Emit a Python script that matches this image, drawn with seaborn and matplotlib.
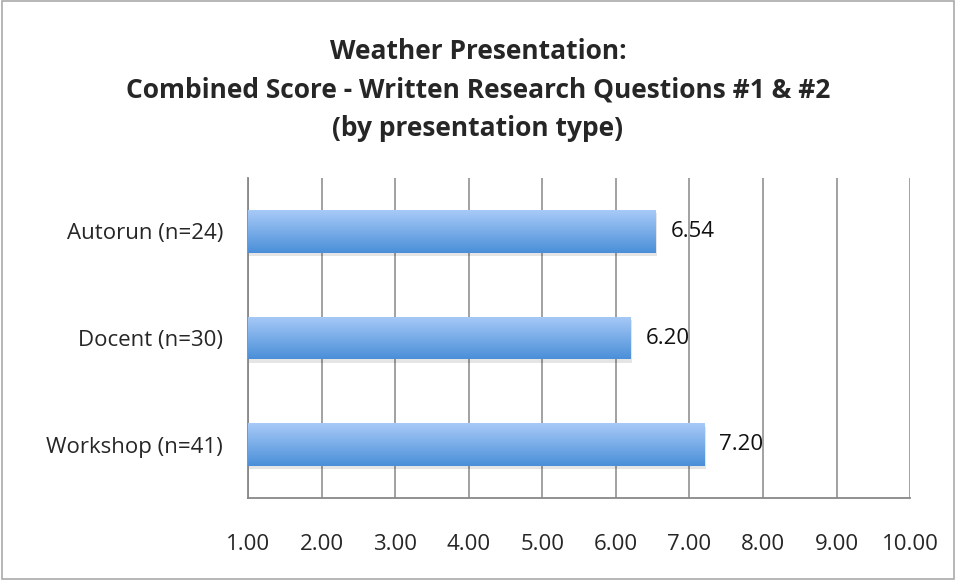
import matplotlib
matplotlib.use("Agg")
import matplotlib.pyplot as plt
import numpy as np
import pandas as pd
import seaborn as sns
from matplotlib.colors import LinearSegmentedColormap
from matplotlib.patches import Rectangle

groups = ["Autorun (n=24)", "Docent (n=30)", "Workshop (n=41)"]
scores = [6.54, 6.20, 7.20]
xticks = [1, 2, 3, 4, 5, 6, 7, 8, 9, 10]

title = ("Weather Presentation:\n"
         "Combined Score - Written Research Questions #1 & #2\n"
         "(by presentation type)")

sns.set_style("white")
plt.rcParams["font.family"] = ["Open Sans", "DejaVu Sans"]

df = pd.DataFrame({"group": groups, "score": scores})

fig = plt.figure(figsize=(9.56, 5.8), dpi=100)
ax = fig.add_axes([0.2594, 0.1414, 0.6926, 0.5516])

sns.barplot(data=df, x="score", y="group", ax=ax, orient="h", width=0.4,
            color="#5b9be0", edgecolor="none", zorder=3)
# bars start at 1.00 like the original axis
for p in ax.patches:
    w = p.get_width()
    p.set_x(1)
    p.set_width(w - 1)

grad = LinearSegmentedColormap.from_list("blu", ["#a8caf8", "#4a8fd8"])
gimg = np.linspace(0, 1, 256).reshape(-1, 1)
for p in ax.patches:
    x0, y0, w, h = p.get_x(), p.get_y(), p.get_width(), p.get_height()
    # soft shadow
    ax.add_patch(Rectangle((x0 + 0.02, y0 + 0.03), w, h, color="#000000",
                           alpha=0.10, zorder=2, lw=0))
    im = ax.imshow(gimg, cmap=grad, aspect="auto", extent=[x0, x0 + w, y0 + h, y0],
                   zorder=4, interpolation="bilinear")
    im.set_clip_path(p)

for p, v in zip(ax.patches, scores):
    ax.text(v + 0.2, p.get_y() + p.get_height() / 2, f"{v:.2f}", va="center",
            ha="left", fontsize=16, color="#111111", zorder=5)

ax.set_xlim(1, 10)
ax.set_ylim(2.5, -0.5)
ax.set_xticks(xticks)
ax.set_xticklabels([f"{t:.2f}" for t in xticks], fontsize=16)
ax.set_yticks(range(len(groups)))
ax.set_yticklabels(groups, fontsize=16)
ax.set_yticks([-0.5, 0.5, 1.5, 2.5], minor=True)
ax.tick_params(axis="y", which="major", length=0, pad=18)
ax.tick_params(axis="y", which="minor", length=6, color="#888888", width=1.2, direction="out")
ax.tick_params(axis="x", length=6, color="#888888", width=1.2, direction="out", pad=20)
ax.set_xlabel("")
ax.set_ylabel("")

ax.grid(axis="x", color="#9a9a9a", lw=1.3, zorder=0)
ax.set_axisbelow(True)
for s in ["top", "right"]:
    ax.spines[s].set_visible(False)
for s in ["left", "bottom"]:
    ax.spines[s].set_color("#888888")
    ax.spines[s].set_linewidth(1.3)

fig.text(0.5, 0.935, title, ha="center", va="top", fontsize=19, fontweight="bold",
         linespacing=1.55)

fig.patches.append(Rectangle((0.002, 0.002), 0.996, 0.996, transform=fig.transFigure,
                             fill=False, edgecolor="#aaaaaa", lw=1.2))

fig.savefig("out.png", dpi=100)
